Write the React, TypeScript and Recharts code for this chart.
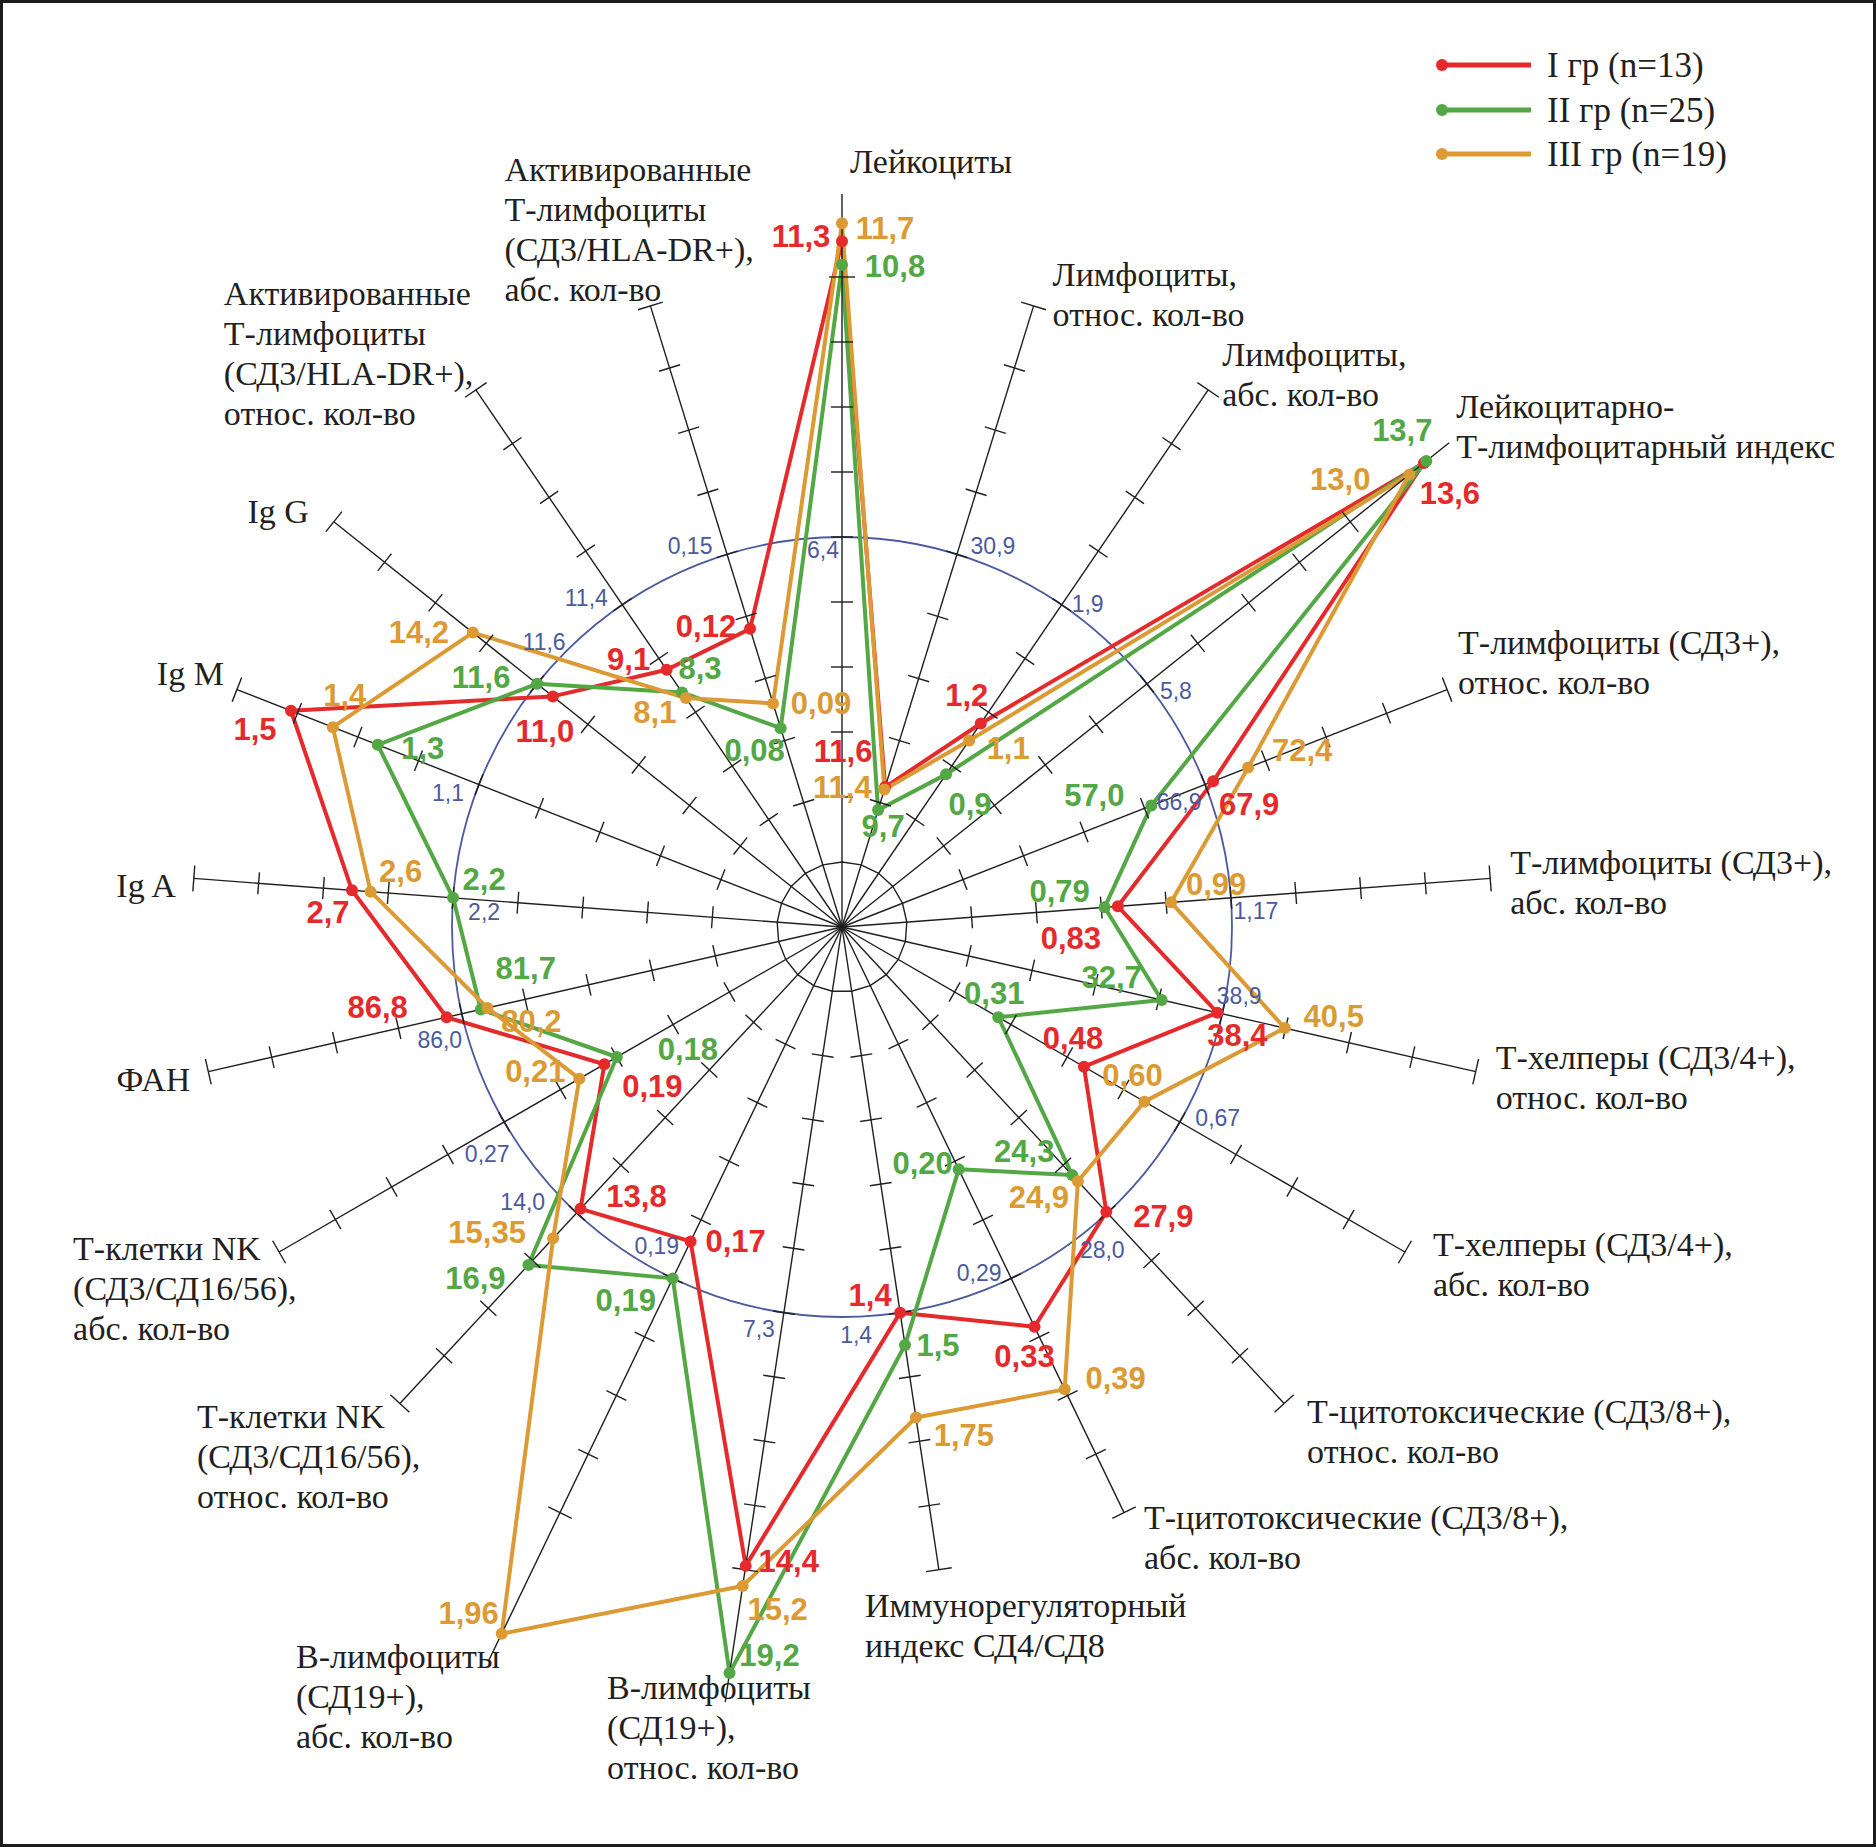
import React from 'react';
import { RadarChart, Radar, PolarGrid, PolarAngleAxis, PolarRadiusAxis } from 'recharts';

// ---------- data ----------
const CATEGORIES: string[][] = [
  ['Лейкоциты'],
  ['Лимфоциты,', 'относ. кол-во'],
  ['Лимфоциты,', 'абс. кол-во'],
  ['Лейкоцитарно-', 'Т-лимфоцитарный индекс'],
  ['Т-лимфоциты (СД3+),', 'относ. кол-во'],
  ['Т-лимфоциты (СД3+),', 'абс. кол-во'],
  ['Т-хелперы (СД3/4+),', 'относ. кол-во'],
  ['Т-хелперы (СД3/4+),', 'абс. кол-во'],
  ['Т-цитотоксические (СД3/8+),', 'относ. кол-во'],
  ['Т-цитотоксические (СД3/8+),', 'абс. кол-во'],
  ['Иммунорегуляторный', 'индекс СД4/СД8'],
  ['В-лимфоциты', '(СД19+),', 'относ. кол-во'],
  ['В-лимфоциты', '(СД19+),', 'абс. кол-во'],
  ['Т-клетки NK', '(СД3/СД16/56),', 'относ. кол-во'],
  ['Т-клетки NK', '(СД3/СД16/56),', 'абс. кол-во'],
  ['ФАН'],
  ['Ig A'],
  ['Ig M'],
  ['Ig G'],
  ['Активированные', 'Т-лимфоциты', '(СД3/HLA-DR+),', 'относ. кол-во'],
  ['Активированные', 'Т-лимфоциты', '(СД3/HLA-DR+),', 'абс. кол-во'],
];

// norm value of each axis (blue circle, 6th tick)
const NORMS = [6.4, 30.9, 1.9, 5.8, 66.9, 1.17, 38.9, 0.67, 28.0, 0.29, 1.4, 7.3, 0.19, 14.0, 0.27, 86.0, 2.2, 1.1, 11.6, 11.4, 0.15];
// value at the 10th tick (end of axis); scale beyond the norm is logarithmic
const AXIS_MAX = [10.55, 51.5, 3.17, 10.84, 104.3, 1.95, 45.8, 1.12, 46.7, 0.542, 2.42, 14.55, 0.885, 27.9, 0.45, 100.4, 3.72, 1.64, 22.0, 19, 0.25];
const DECIMALS = [1, 1, 1, 1, 1, 2, 1, 2, 1, 2, 1, 1, 2, 1, 2, 1, 1, 1, 1, 1, 2];

const GROUP_I = [11.3, 11.6, 1.2, 13.6, 67.9, 0.83, 38.4, 0.48, 27.9, 0.33, 1.4, 14.4, 0.17, 13.8, 0.19, 86.8, 2.7, 1.5, 11.0, 9.1, 0.12];
const GROUP_II = [10.8, 9.7, 0.9, 13.7, 57.0, 0.79, 32.7, 0.31, 24.3, 0.20, 1.5, 19.2, 0.19, 16.9, 0.18, 81.7, 2.2, 1.3, 11.6, 8.3, 0.08];
const GROUP_III = [11.7, 11.4, 1.1, 13.0, 72.4, 0.99, 40.5, 0.60, 24.9, 0.39, 1.75, 15.2, 1.96, 15.35, 0.21, 80.2, 2.6, 1.4, 14.2, 8.1, 0.09];

const SERIES_NAMES = ['I гр (n=13)', 'II гр (n=25)', 'III гр (n=19)'];

// ---------- styles / layout ----------
const W = 1876;
const H = 1847;
const CX = 842;
const CY = 927;
const TICK_PX = 65;
const AXIS_TICKS = 10;
const DOMAIN_MAX = 13;
const COLORS = ['#e52a2c', '#53a744', '#dc9a34'];
const NORM_COLOR = '#4b5a9c';
const SANS = "'Liberation Sans', Arial, sans-serif";
const SERIF = "'Liberation Serif', 'Times New Roman', serif";

// label offsets (px) – styles only
const CAT_POS: [number, number, 'start' | 'end'][] = [
  [8, -116, 'start'], [19, -31, 'start'], [14, -35, 'start'], [106, -115, 'start'],
  [11, -47, 'start'], [20, -16, 'start'], [20, -14, 'start'], [28, -8, 'start'],
  [23, 8, 'start'], [20, 5, 'start'], [-74, 36, 'start'], [-138, 118, 'start'],
  [-264, 144, 'start'], [-203, 13, 'start'], [-206, -4, 'start'], [-18, 8, 'end'],
  [-18, 7, 'end'], [-13, -16, 'end'], [-25, -10, 'end'], [-252, -96, 'start'],
  [-146, -136, 'start'],
];
const NORM_POS: [number, number][] = [
  [-19, 13], [36, -8], [26, -1], [29, 7], [-26, 17], [25, 13], [17, -18], [38, -4],
  [-5, 37], [-32, -5], [-44, 22], [-25, 16], [-16, -32], [-54, -11], [-17, 32],
  [-22, 26], [31, 14], [-31, 8], [7, -42], [-36, -7], [-37, -8],
];
const VALUE_POS_I: [number, number][] = [
  [-41, -5], [-42, -36], [-14, -28], [26, 31], [36, 23], [-47, 32], [20, 23], [-11, -28],
  [57, 5], [-10, 30], [-30, -17], [43, -4], [45, 0], [56, -12], [48, 22], [-69, -10],
  [-24, 22], [-36, 19], [-8, 35], [-38, -10], [-44, -2],
];
const VALUE_POS_II: [number, number][] = [
  [53, 2], [5, 16], [24, 30], [-24, -31], [-57, -10], [-45, -16], [-50, -22], [-4, -24],
  [-48, -24], [-36, -6], [33, 0], [40, -18], [-47, 22], [-53, 14], [71, -8], [45, -41],
  [31, -18], [45, 4], [-56, -6], [18, -24], [-26, 22],
];
const VALUE_POS_III: [number, number][] = [
  [43, 5], [-42, -2], [39, 8], [-69, 5], [54, -17], [45, -18], [49, -12], [-12, -26],
  [-39, 16], [51, -11], [48, 18], [35, 23], [-33, -20], [-66, -6], [-44, -7], [44, 14],
  [30, -20], [12, -32], [-54, 0], [-31, 14], [48, 0],
];

// ---------- helpers ----------
function toTicks(v: number, i: number): number {
  const n = NORMS[i];
  const m = AXIS_MAX[i];
  return v <= n ? (6 * v) / n : 6 + (4 * Math.log(v / n)) / Math.log(m / n);
}
function fmt(v: number, i: number): string {
  const s = String(v);
  const d = s.includes('.') ? s.split('.')[1].length : 0;
  return v.toFixed(Math.max(d, DECIMALS[i])).replace('.', ',');
}

const SERIES = [
  { key: 'g1', values: GROUP_I, pos: VALUE_POS_I },
  { key: 'g2', values: GROUP_II, pos: VALUE_POS_II },
  { key: 'g3', values: GROUP_III, pos: VALUE_POS_III },
];

const DATA = CATEGORIES.map((lines, i) => ({
  name: lines.join(' '),
  g1: toTicks(GROUP_I[i], i),
  g2: toTicks(GROUP_II[i], i),
  g3: toTicks(GROUP_III[i], i),
}));

const AxisDecor = (props: any) => {
  const i: number = props.index ?? props.payload?.index ?? 0;
  const coord: number = props.payload.coordinate;
  const cx = CX;
  const cy = CY;
  const rad = (-coord * Math.PI) / 180;
  const ux = Math.cos(rad);
  const uy = Math.sin(rad);
  const px = -uy;
  const py = ux;
  const maxT = Math.max(DATA[i].g1, DATA[i].g2, DATA[i].g3);
  const ext = Math.max(AXIS_TICKS, maxT + 0.45);
  const pt = (t: number) => [cx + ux * t * TICK_PX, cy + uy * t * TICK_PX];
  const [ex, ey] = pt(ext);
  const ticks = [];
  for (let k = 2; k <= AXIS_TICKS; k++) {
    const [tx, ty] = pt(k);
    const h = k === AXIS_TICKS ? 13 : 11;
    ticks.push(
      <line key={k} x1={tx - px * h} y1={ty - py * h} x2={tx + px * h} y2={ty + py * h} stroke="#1f1f1f" strokeWidth={1.4} />
    );
  }
  const [nx, ny] = pt(6);
  const [lx, ly] = pt(AXIS_TICKS);
  const cp = CAT_POS[i];
  return (
    <g>
      <line x1={cx} y1={cy} x2={ex} y2={ey} stroke="#1f1f1f" strokeWidth={1.4} />
      {ticks}
      <text
        x={nx + NORM_POS[i][0]}
        y={ny + NORM_POS[i][1]}
        textAnchor="middle"
        dominantBaseline="central"
        fontFamily={SANS}
        fontSize={23}
        fill={NORM_COLOR}
      >
        {fmt(NORMS[i], i)}
      </text>
      {CATEGORIES[i].map((line, j) => (
        <text
          key={j}
          x={lx + cp[0]}
          y={ly + cp[1] + j * 40}
          textAnchor={cp[2]}
          dominantBaseline="central"
          fontFamily={SERIF}
          fontSize={34}
          fill="#231f20"
        >
          {line}
        </text>
      ))}
    </g>
  );
};

const makeDot = (s: number) => (p: any) => {
  const i: number = p.index;
  const ser = SERIES[s];
  const [dx, dy] = ser.pos[i];
  return (
    <g key={`dot-${s}-${i}`}>
      <circle cx={p.cx} cy={p.cy} r={6} fill={COLORS[s]} stroke="none" />
      <text
        x={p.cx + dx}
        y={p.cy + dy}
        textAnchor="middle"
        dominantBaseline="central"
        fontFamily={SANS}
        fontWeight="bold"
        fontSize={31}
        fill={COLORS[s]}
      >
        {fmt(ser.values[i], i)}
      </text>
    </g>
  );
};

const LEGEND_ROWS = [65, 110, 154];

export default function App() {
  return (
    <div style={{ position: 'absolute', left: 0, top: 0, width: W, height: H, background: '#ffffff' }}>
      <RadarChart
        width={W}
        height={H}
        data={DATA}
        cx={CX}
        cy={CY}
        outerRadius={DOMAIN_MAX * TICK_PX}
        margin={{ top: 0, right: 0, bottom: 0, left: 0 }}
      >
        <PolarGrid gridType="circle" radialLines={false} polarRadius={[6 * TICK_PX]} stroke={NORM_COLOR} strokeWidth={1.8} />
        <PolarGrid gridType="polygon" radialLines={false} polarRadius={[TICK_PX]} stroke="#1f1f1f" strokeWidth={1.4} />
        <PolarRadiusAxis type="number" domain={[0, DOMAIN_MAX]} tick={false} axisLine={false} />
        <PolarAngleAxis dataKey="name" tick={AxisDecor} tickLine={false} axisLine={false} />
        {SERIES.map((s, k) => (
          <Radar
            key={s.key}
            dataKey={s.key}
            name={SERIES_NAMES[k]}
            stroke={COLORS[k]}
            strokeWidth={4}
            strokeLinejoin="round"
            fill="none"
            fillOpacity={0}
            dot={makeDot(k)}
            isAnimationActive={false}
          />
        ))}
      </RadarChart>
      <svg width={W} height={H} style={{ position: 'absolute', left: 0, top: 0, pointerEvents: 'none' }}>
        <rect x={1.5} y={1.5} width={W - 3} height={H - 3} fill="none" stroke="#1c1c1c" strokeWidth={3} />
        {SERIES_NAMES.map((name, k) => (
          <g key={name}>
            <line x1={1442} y1={LEGEND_ROWS[k]} x2={1531} y2={LEGEND_ROWS[k]} stroke={COLORS[k]} strokeWidth={5} />
            <circle cx={1442} cy={LEGEND_ROWS[k]} r={6} fill={COLORS[k]} />
            <text x={1547} y={LEGEND_ROWS[k]} dominantBaseline="central" fontFamily={SERIF} fontSize={35} fill="#231f20">
              {name}
            </text>
          </g>
        ))}
      </svg>
    </div>
  );
}
